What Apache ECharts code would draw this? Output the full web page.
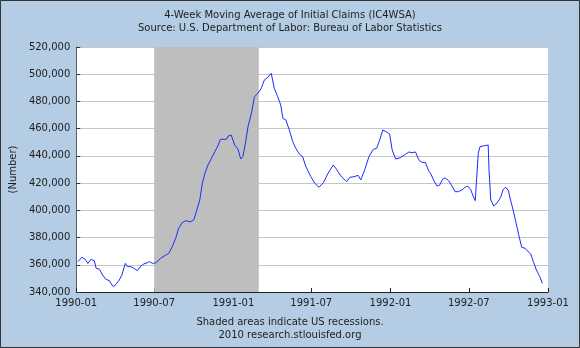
<!DOCTYPE html>
<html>
<head>
<meta charset="utf-8">
<script src="https://cdn.jsdelivr.net/npm/echarts@6/dist/echarts.min.js"></script>
<style>
  html, body { margin: 0; padding: 0; background: #b4cce4; }
  #chart { width: 580px; height: 348px; }
</style>
</head>
<body>
<div id="chart"></div>
<script>
// 4-week moving average of initial jobless claims, weekly readings 1990-1992
const weekDates = [
  '1990-01-05','1990-01-14','1990-01-22','1990-01-28','1990-02-04','1990-02-12','1990-02-16','1990-02-24',
  '1990-03-03','1990-03-11','1990-03-19','1990-03-25','1990-03-30','1990-04-05','1990-04-11','1990-04-17',
  '1990-04-25','1990-04-30','1990-05-08','1990-05-15','1990-05-23','1990-05-31','1990-06-07','1990-06-15',
  '1990-06-20','1990-06-27','1990-07-05','1990-07-16','1990-07-24','1990-08-04','1990-08-12','1990-08-20',
  '1990-08-27','1990-09-04','1990-09-12','1990-09-23','1990-10-01','1990-10-07','1990-10-15','1990-10-21',
  '1990-10-27','1990-11-03','1990-11-11','1990-11-19','1990-11-27','1990-12-02','1990-12-16','1990-12-20',
  '1990-12-27','1991-01-04','1991-01-12','1991-01-18','1991-01-23','1991-01-29','1991-02-04','1991-02-12',
  '1991-02-19','1991-02-27','1991-03-07','1991-03-14','1991-03-22','1991-03-30','1991-04-06','1991-04-14',
  '1991-04-21','1991-04-26','1991-05-03','1991-05-11','1991-05-19','1991-05-26','1991-06-03','1991-06-11',
  '1991-06-18','1991-06-30','1991-07-09','1991-07-19','1991-07-29','1991-08-09','1991-08-21','1991-08-27',
  '1991-09-08','1991-09-21','1991-09-29','1991-10-08','1991-10-18','1991-10-24','1991-11-02','1991-11-12',
  '1991-11-22','1991-11-30','1991-12-07','1991-12-14','1991-12-22','1991-12-30','1992-01-05','1992-01-13',
  '1992-01-24','1992-02-05','1992-02-13','1992-02-20','1992-02-28','1992-03-08','1992-03-16','1992-03-22',
  '1992-03-30','1992-04-04','1992-04-10','1992-04-18','1992-04-24','1992-05-01','1992-05-07','1992-05-15',
  '1992-05-23','1992-05-30','1992-06-07','1992-06-15','1992-06-22','1992-06-28','1992-07-05','1992-07-11',
  '1992-07-16','1992-07-19','1992-07-23','1992-07-27','1992-08-04','1992-08-08','1992-08-15','1992-08-17',
  '1992-08-21','1992-08-28','1992-09-05','1992-09-13','1992-09-19','1992-09-25','1992-10-01','1992-10-06',
  '1992-10-12','1992-10-19','1992-10-25','1992-11-01','1992-11-09','1992-11-16','1992-11-22','1992-11-28',
  '1992-12-05','1992-12-13','1992-12-19'
];
const claims = [
  362300,365500,364000,361000,364000,363000,357500,356700,
  352500,349300,348300,345000,344000,346400,348800,352500,
  361000,358600,358600,357400,355700,359100,360600,361500,
  362300,361000,361500,364800,366400,368400,373300,379500,
  386800,390900,392400,391600,393000,399000,407600,419900,
  427200,433300,438200,443100,448000,452200,452200,454600,
  455300,448000,444800,437700,439400,449300,461400,471300,
  483500,486000,489700,495800,497700,500700,489700,483500,
  477400,467600,466400,459000,450400,445600,441400,439400,
  432500,424700,419900,416900,420300,427200,433300,430900,
  425200,421000,424300,424700,425700,422300,429600,439400,
  444800,445600,451700,459000,457800,456100,444300,437700,
  438700,441200,442900,442300,442900,436500,435000,435300,
  428900,426700,422300,417900,418400,422800,423800,421800,
  417900,413700,413700,414900,416900,417900,415500,410500,
  407100,422300,441900,446800,447300,446800,448000,429600,
  407600,403200,405600,409600,415500,416900,414400,407600,
  400200,390500,381900,372800,372100,369600,367900,362300,
  356200,351200,346400
];
// US recession (NBER) shown as shaded band
const recessionStart = '1990-07-01';
const recessionEnd = '1991-03-01';
// axis tick labels
const xTickLabels = ['1990-01','1990-07','1991-01','1991-07','1992-01','1992-07','1993-01'];
const yTicks = [340000,360000,380000,400000,420000,440000,460000,480000,500000,520000];

const font = 'DejaVu Sans, Verdana, sans-serif';
const textColor = '#1e1e1e';

function ymToTime(ym) {
  const [y, m] = ym.split('-').map(Number);
  return Date.UTC(y, m - 1, 1);
}
function dayToTime(d) {
  const [y, m, dd] = d.split('-').map(Number);
  return Date.UTC(y, m - 1, dd);
}
function withCommas(v) {
  return String(v).replace(/\B(?=(\d{3})+(?!\d))/g, ',');
}

const xTickTimes = xTickLabels.map(ymToTime);
const labelByTime = {};
xTickTimes.forEach((t, i) => { labelByTime[t] = xTickLabels[i]; });
const seriesData = weekDates.map((d, i) => [dayToTime(d), claims[i]]);

const chart = echarts.init(document.getElementById('chart'), null, { renderer: 'canvas' });
chart.setOption({
  backgroundColor: '#b4cce4',
  animation: false,
  textStyle: { fontFamily: font },
  title: {
    text: '4-Week Moving Average of Initial Claims (IC4WSA)\nSource: U.S. Department of Labor: Bureau of Labor Statistics',
    left: 'center',
    top: 4,
    textStyle: { fontSize: 10, fontWeight: 'normal', color: textColor, lineHeight: 13, fontFamily: font }
  },
  graphic: [
    {
      type: 'text',
      left: 'center',
      top: 316,
      style: {
        text: 'Shaded areas indicate US recessions.\n2010 research.stlouisfed.org',
        font: '10px ' + font,
        fill: textColor,
        textAlign: 'center',
        lineHeight: 13
      }
    },
    {
      type: 'rect',
      shape: { x: 0.5, y: 0.5, width: 579, height: 347 },
      style: { fill: 'none', stroke: '#333', lineWidth: 1 },
      z: 100
    }
  ],
  grid: { left: 74, right: 32, top: 47, bottom: 56, show: true, backgroundColor: '#ffffff', borderWidth: 0 },
  xAxis: {
    type: 'value',
    min: xTickTimes[0],
    max: xTickTimes[xTickTimes.length - 1],
    scale: true,
    axisLine: { show: true, onZero: false, lineStyle: { color: '#222', width: 1 } },
    axisTick: { show: true, inside: true, length: 4, customValues: xTickTimes, lineStyle: { color: '#222' } },
    axisLabel: {
      customValues: xTickTimes,
      formatter: (v) => labelByTime[v] || '',
      color: textColor,
      fontSize: 10,
      fontFamily: font,
      margin: 6,
      showMinLabel: true,
      showMaxLabel: true
    },
    splitLine: { show: false }
  },
  yAxis: {
    type: 'value',
    min: yTicks[0],
    max: yTicks[yTicks.length - 1],
    interval: 20000,
    name: '(Number)',
    nameLocation: 'middle',
    nameGap: 58,
    nameRotate: 90,
    nameTextStyle: { color: textColor, fontSize: 10, fontFamily: font },
    axisLine: { show: true, lineStyle: { color: '#556070', width: 1 } },
    axisTick: { show: true, inside: true, length: 4, lineStyle: { color: '#333' } },
    axisLabel: { formatter: (v) => withCommas(v), color: textColor, fontSize: 10, fontFamily: font, margin: 6 },
    splitLine: { show: true, lineStyle: { color: '#c6c6c6', width: 1 } }
  },
  series: [{
    type: 'line',
    data: seriesData,
    showSymbol: false,
    smooth: false,
    lineStyle: { color: '#1c2cff', width: 1 },
    markArea: {
      silent: true,
      itemStyle: { color: '#bebebe', opacity: 1 },
      data: [[{ xAxis: dayToTime(recessionStart) }, { xAxis: dayToTime(recessionEnd) }]]
    }
  }]
});
</script>
</body>
</html>
